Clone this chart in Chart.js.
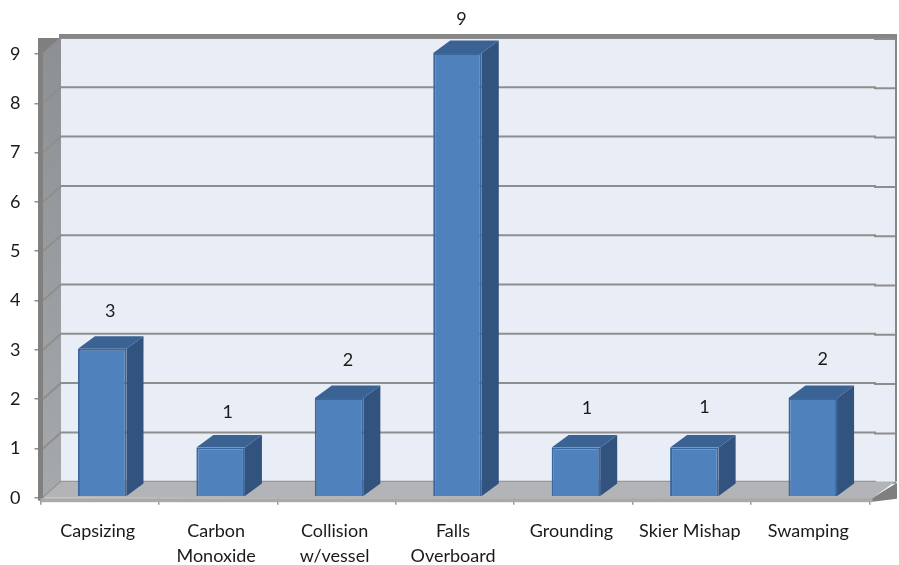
<!DOCTYPE html>
<html>
<head>
<meta charset="utf-8">
<title>Accidents</title>
<script src="https://cdn.jsdelivr.net/npm/chart.js@4"></script>
<style>
body { margin: 0; background: #fff; }
canvas { display: block; }
</style>
</head>
<body>
<canvas id="chart" width="899" height="565"></canvas>
<script>
const categories = ['Capsizing', ['Carbon', 'Monoxide'], ['Collision', 'w/vessel'], ['Falls', 'Overboard'], 'Grounding', 'Skier Mishap', 'Swamping'];
const counts = [3, 1, 2, 9, 1, 1, 2];
const yTicks = [0, 1, 2, 3, 4, 5, 6, 7, 8, 9];

const textColor = '#1a1a1a';
const gridColor = '#8e8e8e';
const fontFamily = 'Lato, "Open Sans", sans-serif';

// petits decalages des etiquettes de valeur, comme sur l'original
const labelNudgeX = [0, -1, 1, -4, 3, 2, 2];
const labelNudgeY = [-2, 1, -2, 2, -3, -4, -3];

// parois du graphique en fausse 3D, derriere les barres
const wallsPlugin = {
    id: 'walls',
    beforeDatasetsDraw(chart) {
        const ctx = chart.ctx;
        const y = chart.scales.y;
        const a = chart.chartArea;
        const backX = 61, dy = 16, rightX = 896;
        const top = y.getPixelForValue(9), bottom = y.getPixelForValue(0);

        ctx.save();
        // fond
        ctx.fillStyle = '#e9edf6';
        ctx.fillRect(backX, top - dy, rightX - backX, bottom - top);

        // coin haut gauche
        ctx.fillStyle = '#7f7f7f';
        ctx.fillRect(38, top - dy, backX - 38, 18);

        // mur gauche
        const wall = ctx.createLinearGradient(0, top, 0, bottom);
        wall.addColorStop(0, '#8d9194');
        wall.addColorStop(1, '#a6a9ab');
        ctx.fillStyle = wall;
        ctx.beginPath();
        ctx.moveTo(43, top);
        ctx.lineTo(backX, top - dy);
        ctx.lineTo(backX, bottom - dy);
        ctx.lineTo(43, bottom);
        ctx.closePath();
        ctx.fill();
        ctx.fillStyle = '#808080';
        ctx.fillRect(38, top - 2, 5, bottom - top + 5);

        // lignes de grille
        ctx.strokeStyle = gridColor;
        ctx.lineWidth = 2;
        yTicks.forEach(v => {
            const py = y.getPixelForValue(v);
            ctx.beginPath();
            ctx.moveTo(43, py);
            ctx.lineTo(backX, py - dy);
            ctx.lineTo(875, py - dy);
            ctx.lineTo(875, py - dy + 1);
            ctx.lineTo(rightX, py - dy + 1);
            ctx.stroke();
        });

        // coin bas droit
        ctx.fillStyle = '#7f7f7f';
        ctx.beginPath();
        ctx.moveTo(a.right, bottom + 2);
        ctx.lineTo(rightX + 1, bottom - dy + 1);
        ctx.lineTo(rightX + 1, bottom + 1);
        ctx.lineTo(a.right + 3, bottom + 4);
        ctx.closePath();
        ctx.fill();

        // sol
        ctx.fillStyle = '#b2b4b7';
        ctx.beginPath();
        ctx.moveTo(43, bottom);
        ctx.lineTo(backX, bottom - dy);
        ctx.lineTo(rightX - 1, bottom - dy);
        ctx.lineTo(a.right + 2, bottom + 1);
        ctx.closePath();
        ctx.fill();

        // bord avant du sol
        ctx.fillStyle = '#a9a9a9';
        ctx.fillRect(a.left, bottom + 0.5, a.right - a.left + 3, 4);

        // bords haut et droit
        ctx.fillStyle = '#868686';
        ctx.fillRect(59, top - dy - 4, rightX + 1 - 59, 4);
        ctx.fillRect(rightX - 1, top - dy - 4, 2, bottom - top + 4);
        ctx.restore();

        // barres decalees sur le sol
        ctx.save();
        ctx.translate(2.5, -1);
    },
    afterDatasetsDraw(chart) {
        const ctx = chart.ctx;
        const depthX = 17, depthY = 12.5;
        chart.getDatasetMeta(0).data.forEach(bar => {
            const half = bar.width / 2;
            const r = bar.x + half, l = bar.x - half;
            ctx.fillStyle = '#31537e';
            ctx.beginPath();
            ctx.moveTo(r, bar.y);
            ctx.lineTo(r + depthX, bar.y - depthY);
            ctx.lineTo(r + depthX, bar.base - depthY);
            ctx.lineTo(r, bar.base);
            ctx.closePath();
            ctx.fill();
            ctx.fillStyle = '#3a6292';
            ctx.beginPath();
            ctx.moveTo(l, bar.y);
            ctx.lineTo(l + depthX, bar.y - depthY);
            ctx.lineTo(r + depthX, bar.y - depthY);
            ctx.lineTo(r, bar.y);
            ctx.closePath();
            ctx.fill();
        });
        ctx.restore();

        // valeurs au dessus des barres
        ctx.save();
        ctx.fillStyle = textColor;
        ctx.font = '18px ' + fontFamily;
        ctx.textAlign = 'center';
        ctx.textBaseline = 'middle';
        chart.getDatasetMeta(0).data.forEach((bar, i) => {
            ctx.fillText(counts[i], bar.x + 10.5 + labelNudgeX[i], bar.y - 37 + labelNudgeY[i]);
        });
        ctx.restore();
    }
};

new Chart(document.getElementById('chart'), {
    type: 'bar',
    data: {
        labels: categories,
        datasets: [{
            data: counts,
            backgroundColor: '#4f81bd',
            borderColor: '#3a689e',
            borderWidth: 2,
            categoryPercentage: 1,
            barPercentage: 0.41,
            clip: false
        }]
    },
    options: {
        responsive: false,
        animation: false,
        layout: { padding: { top: 54, right: 29.5, left: 0, bottom: 0 } },
        plugins: {
            legend: { display: false },
            tooltip: { enabled: false },
            title: { display: false }
        },
        scales: {
            x: {
                afterFit(scale) { scale.height = 67.3; },
                border: { display: false },
                grid: { drawOnChartArea: false, tickLength: 7, color: '#9a9a9a', lineWidth: 1.5 },
                ticks: {
                    color: textColor,
                    padding: 14,
                    labelOffset: -2,
                    maxRotation: 0,
                    autoSkip: false,
                    font: { family: fontFamily, size: 18, lineHeight: 1.39 }
                }
            },
            y: {
                min: 0,
                max: 9,
                afterFit(scale) { scale.width = 40.5; },
                afterBuildTicks(scale) { scale.ticks = yTicks.map(v => ({ value: v })); },
                border: { display: false },
                grid: { drawOnChartArea: false, tickLength: 6, color: '#8e8e8e', lineWidth: 1.5 },
                ticks: {
                    color: textColor,
                    padding: 14,
                    font: { family: fontFamily, size: 18 }
                }
            }
        }
    },
    plugins: [wallsPlugin]
});
</script>
</body>
</html>
